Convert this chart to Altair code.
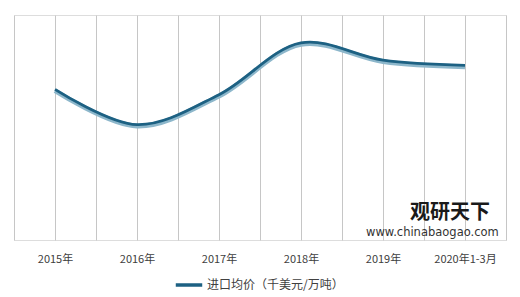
import altair as alt
import pandas as pd

categories = ["2015年", "2016年", "2017年", "2018年", "2019年", "2020年1-3月"]
values = [200, 153, 193, 262, 239, 232]
series_name = "进口均价（千美元/万吨）"

df = pd.DataFrame({"idx": list(range(len(categories))), "cat": categories,
                   "value": values, "series": [series_name] * len(categories)})

label_expr = "[" + ",".join("'" + c + "'" for c in categories) + "][datum.value]"
tick_vals = [i * 0.5 - 0.5 for i in range(2 * len(categories) + 1)]

FONT = "Noto Sans CJK SC"

x = alt.X("idx:Q", scale=alt.Scale(domain=[-0.5, len(categories) - 0.5], nice=False, zero=False),
          axis=alt.Axis(values=tick_vals, grid=True, gridColor="#c6c6c6", gridWidth=1,
                        domain=False, ticks=False, title=None,
                        labelExpr=f"datum.value % 1 == 0 ? {label_expr} : ''",
                        labelFont=FONT, labelFontSize=11, labelColor="#404040",
                        labelPadding=13, labelOverlap=False))
y = alt.Y("value:Q", scale=alt.Scale(domain=[0, 300], nice=False), axis=None)

shadow = alt.Chart(df).mark_line(interpolate="catmull-rom", strokeWidth=4.8,
                                 color="#8db7cb", yOffset=0.8).encode(x=x, y=y)
main = alt.Chart(df).mark_line(interpolate="catmull-rom", strokeWidth=2.8,
                               yOffset=-0.6).encode(
    x=x, y=y,
    color=alt.Color("series:N", scale=alt.Scale(range=["#1d6183"]),
                    legend=alt.Legend(title=None, orient="none", legendX=160, legendY=255,
                                      direction="horizontal",
                                      symbolType="stroke", symbolSize=700,
                                      symbolStrokeWidth=3.5, labelFont=FONT,
                                      labelFontSize=12, labelColor="#404040",
                                      padding=0, labelOffset=3)))

wm1 = alt.Chart(pd.DataFrame({"t": ["观研天下"]})).mark_text(
    font=FONT, fontSize=20, fontWeight="bold", color="#1a1a1a", align="left", baseline="middle"
).encode(text="t:N", x=alt.value(396), y=alt.value(198))
wm2 = alt.Chart(pd.DataFrame({"t": ["www.chinabaogao.com"]})).mark_text(
    font="DejaVu Sans", fontSize=11.5, color="#333333", align="left", baseline="middle"
).encode(text="t:N", x=alt.value(352), y=alt.value(218))

chart = alt.layer(shadow, main, wm1, wm2).properties(
    width=492, height=225,
    autosize=alt.AutoSizeParams(type="none"),
    padding={"left": 14, "top": 15, "right": 14, "bottom": 57},
).configure_view(stroke="#bdbdbd", strokeWidth=1).configure(background="white")

chart.save("out.html", embed_options={"renderer": "svg", "actions": False})
